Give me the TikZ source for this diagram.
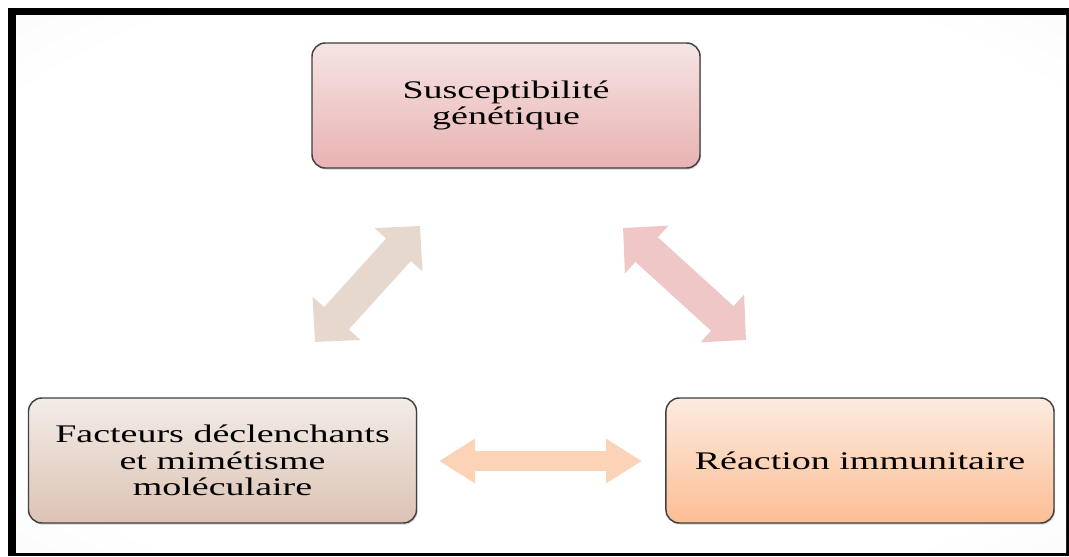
\documentclass[tikz,border=0pt]{standalone}
\usepackage{fontspec}
\newfontfamily\boxfont[FakeStretch=1.5]{Liberation Serif}
\usetikzlibrary{shadows}
\usetikzlibrary{positioning}
\usetikzlibrary{arrows.meta}

\pgfdeclareradialshading{paper}{\pgfpoint{0bp}{0bp}}{color(0bp)=(white); color(30bp)=(white); color(50bp)=(black!5); color(72bp)=(black!9)}

\begin{document}
\begin{tikzpicture}[x=0.75pt,y=-0.75pt,
	box node/.style={rectangle,rounded corners=10pt,draw=boxline,line width=1.1pt,
		minimum width=291pt,minimum height=93.75pt,align=center,
		font={\boxfont\fontsize{19}{20}\selectfont},
		drop shadow={shadow xshift=0.8pt,shadow yshift=-1.2pt,opacity=0.35}},
	big link/.style={line width=25pt,{Triangle[length=24pt,width=47pt]}-{Triangle[length=24pt,width=47pt]}},
	small link/.style={line width=15pt,{Triangle[length=27pt,width=31.5pt]}-{Triangle[length=27pt,width=31.5pt]}}]
	
	\definecolor{boxline}{RGB}{64,64,64}
	\definecolor{pinktop}{RGB}{247,228,228}
	\definecolor{pinkbot}{RGB}{232,178,178}
	\definecolor{tantop}{RGB}{243,236,232}
	\definecolor{tanbot}{RGB}{220,195,180}
	\definecolor{peachtop}{RGB}{253,235,224}
	\definecolor{peachbot}{RGB}{251,190,147}
	\definecolor{tanarrow}{RGB}{231,216,206}
	\definecolor{pinkarrow}{RGB}{239,199,199}
	\definecolor{peacharrow}{RGB}{252,211,183}
	
	% frame
	\useasboundingbox (0,0) rectangle (1069,556);
	\fill[black] (8,8) rectangle (1069,556);
	\shade[shading=paper] (16,16) rectangle (1066,552);
	
	\node[box node, top color=pinktop, bottom color=pinkbot] (sus) at (506,105.5) {Susceptibilité\\génétique};
	\node[box node, top color=tantop, bottom color=tanbot] (fac) at (222.5,460.5) {Facteurs déclenchants\\et mimétisme\\moléculaire};
	\node[box node, top color=peachtop, bottom color=peachbot] (rea) [right=186pt of fac] {Réaction immunitaire};
	
	% arrow ends
	\coordinate (fs1) at (315,342);
	\coordinate (fs2) at (420,226);
	\coordinate (sr1) at (623,228);
	\coordinate (sr2) at (746,340);
	\coordinate (fr1) at (439,461);
	\coordinate (fr2) at (642,461);
	
	\draw[big link, draw=tanarrow] (fs1) -- (fs2);
	\draw[big link, draw=pinkarrow] (sr1) -- (sr2);
	\draw[small link, draw=peacharrow] (fr1) -- (fr2);
\end{tikzpicture}
\end{document}
